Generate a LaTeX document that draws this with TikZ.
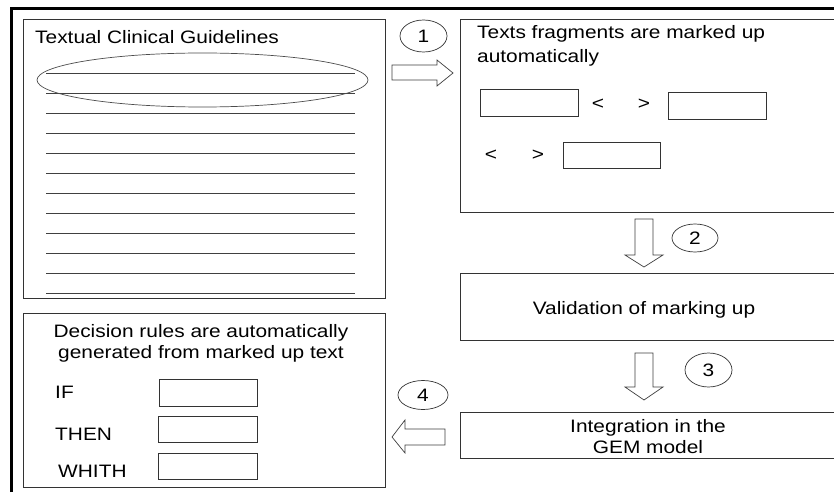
\documentclass[tikz,border=0pt]{standalone}
\usepackage{fontspec}
\setmainfont{Liberation Sans}[FakeStretch=1.16]
\usetikzlibrary{calc}
\tikzset{
  panel/.style={draw=black!80, line width=0.8pt, inner sep=0pt, anchor=north west},
  slot/.style={draw=black!80, line width=0.8pt, inner sep=0pt, anchor=north west},
  rule/.style={draw=black!75, line width=0.8pt},
  blockarrow/.style={draw=black!75, line width=0.7pt, fill=white, line join=miter},
  stepring/.style={draw=black!80, line width=0.7pt},
  label/.style={inner sep=0pt, anchor=base west, font=\fontsize{18}{21}\selectfont},
  clabel/.style={inner sep=0pt, anchor=base, font=\fontsize{18}{21}\selectfont},
  num/.style={inner sep=0pt, font=\fontsize{18}{21}\selectfont},
}
\begin{document}
\begin{tikzpicture}[x=1pt, y=-1pt]
\useasboundingbox (0,0) rectangle (834,492);
\fill[white] (0,0) rectangle (834,492);
\clip (0,0) rectangle (834,492);

% outer frame (top and left edges)
\draw[line width=3pt] (11,492) -- (11,8.5) -- (840,8.5);

% --- guidelines document ---
\node[panel, minimum width=362, minimum height=279] (doc) at (23,19) {};
\node[label] (doctitle) at (35,44) {Textual Clinical Guidelines};
\foreach \i in {0,...,11} {
  \draw[rule] (46,{73+20*\i}) -- (355,{73+20*\i});
}
\draw[draw=black!70, line width=0.7pt] (202.5,80) ellipse [x radius=165.5, y radius=27];

% --- mark-up panel ---
\node[panel, minimum width=400, minimum height=193] (markup) at (460,19) {};
\node[label] (markuptitle1) at (477,39) {Texts fragments are marked up};
\node[label] (markuptitle2) at (477,63) {automatically};
\node[slot, minimum width=98, minimum height=27] (frag1) at (480,89) {};
\node[num] (lt1) at (598,104) {<};
\node[num] (gt1) at (644,104) {>};
\node[slot, minimum width=98, minimum height=27] (frag2) at (668,92) {};
\node[num] (lt2) at (491,155) {<};
\node[num] (gt2) at (538,155) {>};
\node[slot, minimum width=97, minimum height=26] (frag3) at (563,142) {};

% --- validation panel ---
\node[panel, minimum width=400, minimum height=67] (valid) at (460,273) {};
\node[clabel] (validtext) at (644,314) {Validation of marking up};

% --- integration panel ---
\node[panel, minimum width=400, minimum height=46] (integ) at (460,412) {};
\node[clabel] (integtext1) at (648,432) {Integration in the};
\node[clabel] (integtext2) at (648,453) {GEM model};

% --- decision rules panel ---
\node[panel, minimum width=362, minimum height=174] (rules) at (23,313) {};
\node[clabel] (rulestext1) at (201,337) {Decision rules are automatically};
\node[clabel] (rulestext2) at (201,358) {generated from marked up text};
\node[label] (iflbl) at (55,398) {IF};
\node[label] (thenlbl) at (55,440) {THEN};
\node[label] (withlbl) at (58,477) {WHITH};
\node[slot, minimum width=98, minimum height=27] (ifbox) at (159,379) {};
\node[slot, minimum width=99, minimum height=26] (thenbox) at (158,416) {};
\node[slot, minimum width=99, minimum height=26] (withbox) at (158,453) {};

% --- numbered steps ---
\draw[stepring] (423.5,36) ellipse [x radius=23.5, y radius=16];
\node[num] (n1) at (423.5,36) {1};
\draw[stepring] (695,238) ellipse [x radius=23, y radius=14];
\node[num] (n2) at (695,238) {2};
\draw[stepring] (708.5,370) ellipse [x radius=23.5, y radius=17];
\node[num] (n3) at (708.5,370) {3};
\draw[stepring] (423,395) ellipse [x radius=25, y radius=14.5];
\node[num] (n4) at (423,395) {4};

% --- block arrows between stages ---
% step 1: to the right
\draw[blockarrow] (392,65) -- (437,65) -- (437,60) -- (453,73) -- (437,86) -- (437,80) -- (392,80) -- cycle;
% step 2: down
\draw[blockarrow] (635,219) -- (653,219) -- (653,255) -- (663,255) -- (644,267) -- (625,255) -- (635,255) -- cycle;
% step 3: down
\draw[blockarrow] (635,353) -- (653,353) -- (653,387) -- (663,387) -- (644,400) -- (625,387) -- (635,387) -- cycle;
% step 4: to the left
\draw[blockarrow] (445,429) -- (405,429) -- (405,420) -- (392,437) -- (405,453) -- (405,445) -- (445,445) -- cycle;
\end{tikzpicture}
\end{document}
